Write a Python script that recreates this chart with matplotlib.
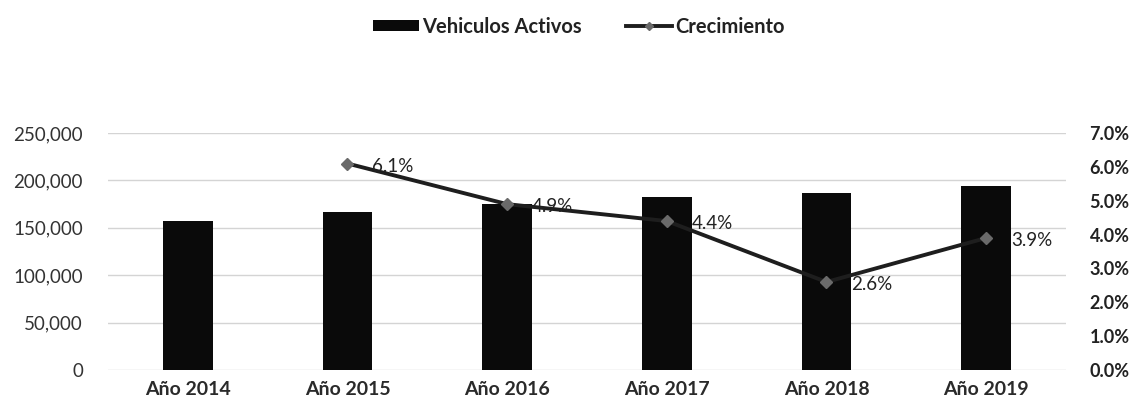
import matplotlib
matplotlib.use("Agg")
import matplotlib.pyplot as plt
from matplotlib.ticker import FuncFormatter, PercentFormatter

plt.rcParams["font.family"] = ["Lato", "DejaVu Sans"]

years = ["Año 2014", "Año 2015", "Año 2016", "Año 2017", "Año 2018", "Año 2019"]
vehiculos = [157000, 166600, 174800, 182500, 187200, 194500]
crecimiento = [None, 6.1, 4.9, 4.4, 2.6, 3.9]

fig = plt.figure(figsize=(11.37, 4.12), dpi=100)
ax = fig.add_axes([0.095, 0.102, 0.8425, 0.575])
ax2 = ax.twinx()

x = list(range(len(years)))
bars = ax.bar(x, vehiculos, width=0.31, color="#0a0a0a", zorder=2, label="Vehiculos Activos")
ax.set_ylim(0, 250000)
ax.set_yticks(range(0, 250001, 50000))
ax.yaxis.set_major_formatter(FuncFormatter(lambda v, _: f"{int(v):,}"))
ax.set_xlim(-0.5, len(years) - 0.5)
ax.set_xticks(x)
ax.set_xticklabels(years, fontweight="bold")
ax.grid(axis="y", color="#d4d4d4", lw=1.0, zorder=0)
ax.tick_params(axis="y", length=0, pad=18, labelsize=13.5, labelcolor="#333333")
ax.tick_params(axis="x", length=0, pad=8, labelsize=14, labelcolor="#2a2a2a")

gx = [i for i, v in enumerate(crecimiento) if v is not None]
gy = [v for v in crecimiento if v is not None]
line, = ax2.plot(gx, gy, color="#1e1e1e", lw=2.8, marker="D", markersize=6.5,
                 markerfacecolor="#6a6a6a", markeredgecolor="#6a6a6a", zorder=3,
                 label="Crecimiento")
for xi, yi in zip(gx, gy):
    ax2.annotate(f"{yi:.1f}%", (xi, yi), xytext=(18, -2), textcoords="offset points",
                 ha="left", va="center", fontsize=13.5, color="#222222")
ax2.set_ylim(0, 7)
ax2.set_yticks(range(0, 8))
ax2.yaxis.set_major_formatter(PercentFormatter(decimals=1))
ax2.tick_params(axis="y", length=0, pad=17, labelsize=13, labelcolor="#222222")
for lbl in ax2.get_yticklabels():
    lbl.set_fontweight("bold")

for a in (ax, ax2):
    for s in a.spines.values():
        s.set_visible(False)

leg = fig.legend([bars, line], ["Vehiculos Activos", "Crecimiento"], loc="center",
                 bbox_to_anchor=(0.509, 0.935), ncol=2, frameon=False, fontsize=14.5,
                 handlelength=2.3, handleheight=0.45, columnspacing=2.2, handletextpad=0.15,
                 markerscale=0.6)
for t in leg.get_texts():
    t.set_fontweight("bold")
    t.set_color("#222222")

fig.savefig("out.png", dpi=100, facecolor="white")
